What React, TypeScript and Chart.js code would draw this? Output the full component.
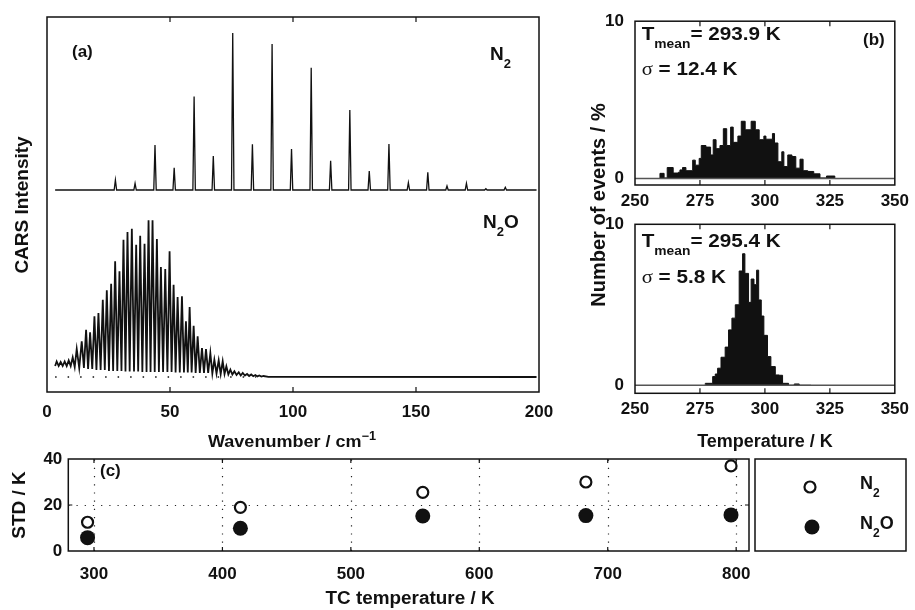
import React, { useEffect, useRef } from "react";
import { Chart, registerables } from "chart.js";
Chart.register(...registerables);

const FONT = "'Liberation Sans', Arial, Helvetica, sans-serif";
const SERIF = "'Liberation Serif', 'DejaVu Serif', serif";
const INK = "#111";

// ---------- Panel (a): CARS spectra ----------
const WAVENUMBER_TICKS = [0, 50, 100, 150, 200];
const N2_SHIFT = [27.8, 35.8, 43.9, 51.7, 59.8, 67.6, 75.5, 83.5, 91.5, 99.4, 107.4, 115.3, 123.1, 131.0, 139.0, 146.9, 154.8, 162.6, 170.5, 178.4, 186.3];
const N2_INTENSITY = [10, 6.7, 45, 22.3, 93.5, 34, 157, 45.7, 146, 41, 122.3, 29.3, 80, 19, 46, 7.3, 17.7, 4, 6.7, 1.3, 2.7];
const N2O_SHIFT = [3.93, 5.56, 7.19, 8.82, 10.45, 12.08, 14.12, 15.89, 17.52, 19.28, 20.91, 22.68, 24.31, 26.07, 27.7, 29.46, 31.09, 32.72, 34.49, 36.25, 37.88, 39.65, 41.28, 42.9, 44.67, 46.3, 48.07, 49.83, 51.46, 53.09, 54.86, 56.48, 57.98, 59.61, 61.24, 63.0, 64.63, 66.4, 68.03, 69.79, 71.42, 72.91, 74.54, 76.17, 77.94, 79.57, 81.33, 83.0, 84.7, 86.3, 88.0];
const N2O_INTENSITY = [15.5, 15, 15.5, 16.5, 19.6, 28, 35.7, 47.3, 44.7, 60.7, 64, 77.3, 86.7, 93.3, 115.7, 105.7, 137.3, 145, 148.3, 132.3, 141.3, 133.3, 156.7, 156.7, 138, 110, 108, 125.7, 92.3, 80, 80.7, 55.7, 70, 51.3, 40.7, 29, 28, 24, 17.3, 16.7, 15.7, 10.7, 7.3, 5.7, 4.7, 4, 3, 2.5, 2, 1.5, 1];
const N2O_VALLEY = [11, 11, 11, 11, 10, 9, 9, 8, 8, 7, 7, 7, 6, 6, 6, 6, 5.5, 5.5, 5.5, 5.5, 5, 5, 5, 5, 5, 5, 5, 5, 4.5, 4.5, 4.5, 4.5, 4.5, 4, 4, 4, 4, 3.5, 3.5, 3, 3, 2.5, 2.5, 2, 1.5, 1.5, 1, 0.8, 0.6, 0.4, 0.2];
const N2O_TAIL_SHIFT = [92, 199];
const N2O_TAIL_INTENSITY = [0.2, 0];
const SPECTRUM_RANGE = [3.3, 199];
const DOTTED_BASELINE_RANGE = [3.3, 85];
const N2_OFFSET = 202;
const N2O_OFFSET = 15;
const LINE_HALF_WIDTH = 0.5;

// ---------- Panel (b): temperature histograms ----------
const TEMP_TICKS = [250, 275, 300, 325, 350];
const HIST1_EDGES = [259.6, 261.2, 262.4, 264.7, 266.7, 267.3, 268.3, 269.6, 272.2, 273.2, 274.7, 275.5, 277.3, 279.1, 280.1, 281.2, 282.7, 284.0, 285.3, 286.8, 287.8, 289.6, 290.9, 292.4, 294.7, 296.3, 297.8, 299.6, 300.4, 302.9, 303.7, 305.0, 306.5, 307.3, 308.8, 310.4, 311.9, 313.5, 314.7, 316.5, 318.8, 321.2, 323.7, 326.9, 328.8];
const HIST1_PERCENT = [0.16, 0.33, 0.04, 0.7, 0.35, 0.4, 0.55, 0.7, 0.5, 1.17, 0.85, 1.28, 2.1, 2.0, 1.5, 2.47, 1.9, 2.1, 3.17, 2.1, 3.27, 2.3, 2.7, 3.64, 3.1, 3.64, 3.1, 2.47, 2.7, 2.5, 2.86, 2.26, 1.07, 1.7, 0.76, 1.5, 1.4, 0.66, 1.23, 0.5, 0.45, 0.3, 0.04, 0.16];
const HIST2_EDGES = [277.05, 279.9, 280.9, 281.8, 283.1, 284.7, 286.0, 287.3, 288.6, 290.1, 291.4, 292.3, 293.7, 294.7, 295.8, 296.8, 297.6, 298.6, 299.6, 301.0, 302.3, 304.0, 305.5, 306.8, 309.1, 311.3, 313.2, 317.7];
const HIST2_PERCENT = [0.06, 0.12, 0.54, 0.7, 1.06, 1.74, 2.37, 3.44, 4.17, 5.0, 7.1, 8.17, 6.95, 5.15, 6.6, 6.25, 7.15, 5.3, 4.3, 3.1, 1.78, 1.16, 0.64, 0.62, 0.12, 0, 0.08];
const HIST_Y_TICKS = [0, 10];

// ---------- Panel (c): STD vs TC temperature ----------
const TC_TEMPERATURE = [295, 414, 556, 683, 796];
const STD_N2 = [12.5, 19, 25.5, 30, 37];
const STD_N2O = [5.8, 9.9, 15.2, 15.4, 15.7];
const TC_TICKS = [300, 400, 500, 600, 700, 800];
const STD_TICKS = [0, 20, 40];

type Part = { t: string; k?: "sub" | "sup"; serif?: boolean };
type TextItem = { x: number; y: number; parts: Part[]; size?: number; align?: "left" | "center" | "right"; rot?: number; sx?: number };

function fontFor(p: Part, size: number) {
  const s = p.k ? Math.round(size * 0.68) : size;
  return `${p.serif ? "normal" : "bold"} ${s}px ${p.serif ? SERIF : FONT}`;
}

function drawRich(ctx: CanvasRenderingContext2D, it: TextItem) {
  const size = it.size ?? 17;
  let total = 0;
  const widths = it.parts.map((p) => {
    ctx.font = fontFor(p, size);
    const w = ctx.measureText(p.t).width;
    total += w;
    return w;
  });
  ctx.save();
  ctx.translate(it.x, it.y);
  if (it.rot) ctx.rotate(it.rot);
  if (it.sx) ctx.scale(it.sx, 1);
  ctx.fillStyle = INK;
  ctx.textBaseline = "alphabetic";
  ctx.textAlign = "left";
  let cx = it.align === "center" ? -total / 2 : it.align === "right" ? -total : 0;
  it.parts.forEach((p, i) => {
    ctx.font = fontFor(p, size);
    const dy = p.k === "sub" ? size * 0.42 : p.k === "sup" ? -size * 0.42 : 0;
    ctx.fillText(p.t, cx, dy);
    cx += widths[i];
  });
  ctx.restore();
}

const framePlugin = {
  id: "frame",
  beforeDatasetsDraw(chart: any, _a: any, o: any) {
    const { ctx, chartArea: a, scales } = chart;
    ctx.save();
    ctx.beginPath();
    ctx.rect(a.left, a.top, a.right - a.left, a.bottom - a.top);
    ctx.clip();
    ctx.strokeStyle = "#222";
    ctx.lineWidth = 1.2;
    ctx.setLineDash([1.2, 7]);
    (o.xGrid || []).forEach((v: number) => {
      const px = Math.round(scales.x.getPixelForValue(v)) + 0.5;
      ctx.beginPath();
      ctx.moveTo(px, a.bottom);
      ctx.lineTo(px, a.top);
      ctx.stroke();
    });
    (o.yGrid || []).forEach((v: number) => {
      const py = Math.round(scales.y.getPixelForValue(v)) + 0.5;
      ctx.beginPath();
      ctx.moveTo(a.left, py);
      ctx.lineTo(a.right, py);
      ctx.stroke();
    });
    ctx.restore();
  },
  afterDatasetsDraw(chart: any, _a: any, o: any) {
    const { ctx, chartArea: a, scales } = chart;
    ctx.save();
    if (o.zeroLine) {
      const py = scales.y.getPixelForValue(0);
      ctx.strokeStyle = "#555";
      ctx.lineWidth = 1.6;
      ctx.beginPath();
      ctx.moveTo(a.left, py);
      ctx.lineTo(a.right, py);
      ctx.stroke();
    }
    ctx.strokeStyle = INK;
    ctx.lineWidth = 1.5;
    ctx.setLineDash([]);
    ctx.strokeRect(a.left, a.top, a.right - a.left, a.bottom - a.top);
    const L = o.tickLen || 5;
    ctx.lineWidth = 1.2;
    ctx.beginPath();
    (o.xTicks || []).forEach((v: number) => {
      const px = scales.x.getPixelForValue(v);
      ctx.moveTo(px, a.bottom);
      ctx.lineTo(px, a.bottom - L);
      ctx.moveTo(px, a.top);
      ctx.lineTo(px, a.top + L);
    });
    (o.yTicks || []).forEach((v: number) => {
      const py = scales.y.getPixelForValue(v);
      ctx.moveTo(a.left, py);
      ctx.lineTo(a.left + L, py);
      ctx.moveTo(a.right, py);
      ctx.lineTo(a.right - L, py);
    });
    ctx.stroke();
    ctx.restore();
  },
};

const textPlugin = {
  id: "texts",
  afterDraw(chart: any, _a: any, o: any) {
    const ctx = chart.ctx as CanvasRenderingContext2D;
    if (o.legend) {
      const L = o.legend;
      ctx.save();
      ctx.strokeStyle = INK;
      ctx.lineWidth = 1.5;
      ctx.strokeRect(L.x, L.y, L.w, L.h);
      ctx.beginPath();
      ctx.arc(L.sym1[0], L.sym1[1], 5.5, 0, Math.PI * 2);
      ctx.fillStyle = "#fff";
      ctx.fill();
      ctx.lineWidth = 2.2;
      ctx.stroke();
      ctx.beginPath();
      ctx.arc(L.sym2[0], L.sym2[1], 7.5, 0, Math.PI * 2);
      ctx.fillStyle = INK;
      ctx.fill();
      ctx.restore();
    }
    (o.items || []).forEach((it: TextItem) => drawRich(ctx, it));
  },
};

const tickFont = { family: FONT, size: 17, weight: "bold" as const };

function fixedTicks(values: number[]) {
  return (s: any) => {
    s.ticks = values.map((v) => ({ value: v }));
  };
}

function xy(xs: number[], ys: number[], off = 0) {
  return xs.map((x, i) => ({ x, y: ys[i] + off }));
}

function n2Points() {
  const pts = [{ x: SPECTRUM_RANGE[0], y: N2_OFFSET }];
  N2_SHIFT.forEach((w, i) => {
    pts.push({ x: w - LINE_HALF_WIDTH, y: N2_OFFSET });
    pts.push({ x: w, y: N2_OFFSET + N2_INTENSITY[i] });
    pts.push({ x: w + LINE_HALF_WIDTH, y: N2_OFFSET });
  });
  pts.push({ x: SPECTRUM_RANGE[1], y: N2_OFFSET });
  return pts;
}

function n2oPoints() {
  const pts = [{ x: SPECTRUM_RANGE[0], y: N2O_OFFSET + N2O_VALLEY[0] }];
  N2O_SHIFT.forEach((w, i) => {
    pts.push({ x: w, y: N2O_OFFSET + N2O_INTENSITY[i] });
    const next = i + 1 < N2O_SHIFT.length ? N2O_SHIFT[i + 1] : N2O_TAIL_SHIFT[0];
    pts.push({ x: (w + next) / 2, y: N2O_OFFSET + N2O_VALLEY[i] });
  });
  return pts.concat(xy(N2O_TAIL_SHIFT, N2O_TAIL_INTENSITY, N2O_OFFSET));
}

function histPoints(edges: number[], vals: number[]) {
  const pts = [{ x: edges[0], y: 0 }];
  edges.forEach((e, i) => pts.push({ x: e, y: i < vals.length ? vals[i] : 0 }));
  return pts;
}

const base = (padding: any) => ({
  animation: false as const,
  responsive: false,
  events: [] as any[],
  layout: { padding },
});

function cfgA(): any {
  return {
    type: "scatter",
    data: {
      datasets: [
        { data: n2Points(), showLine: true, borderColor: INK, borderWidth: 1.3, pointRadius: 0 },
        { data: n2oPoints(), showLine: true, borderColor: INK, borderWidth: 1.8, pointRadius: 0 },
        {
          data: DOTTED_BASELINE_RANGE.map((x) => ({ x, y: N2O_OFFSET })),
          showLine: true, borderColor: INK, borderWidth: 1.6, borderDash: [1.5, 11], pointRadius: 0,
        },
      ],
    },
    options: {
      ...base({ left: 47, top: 17, right: 376, bottom: 178 }),
      plugins: {
        legend: { display: false },
        tooltip: { enabled: false },
        frame: { xTicks: [50, 100, 150], tickLen: 5 },
        texts: {
          items: [
            { x: 72, y: 57, parts: [{ t: "(a)" }], size: 17 },
            { x: 490, y: 60, parts: [{ t: "N" }, { t: "2", k: "sub" }], size: 19 },
            { x: 483, y: 228, parts: [{ t: "N" }, { t: "2", k: "sub" }, { t: "O" }], size: 19 },
            { x: 28, y: 205, parts: [{ t: "CARS Intensity" }], size: 19, align: "center", rot: -Math.PI / 2 },
            { x: 292, y: 447, parts: [{ t: "Wavenumber / cm" }, { t: "−1", k: "sup" }], size: 17, align: "center", sx: 1.06 },
          ],
        },
      },
      scales: {
        x: {
          type: "linear", min: 0, max: 200,
          afterBuildTicks: fixedTicks(WAVENUMBER_TICKS),
          afterFit: (s: any) => { s.height = 40; },
          grid: { display: false, drawTicks: false }, border: { display: false },
          ticks: { padding: 10, font: tickFont, color: INK, maxRotation: 0, autoSkip: false },
        },
        y: { type: "linear", min: 0, max: 375, display: false },
      },
    },
  };
}

function cfgHist(edges: number[], vals: number[], top: number, bottom: number, right: number, ymin: number, items: TextItem[]): any {
  return {
    type: "scatter",
    data: {
      datasets: [
        {
          data: histPoints(edges, vals), showLine: true, stepped: "after", fill: "origin",
          backgroundColor: INK, borderColor: INK, borderWidth: 1, pointRadius: 0,
        },
      ],
    },
    options: {
      ...base({ left: 595, top, right: 915 - right, bottom: 610 - bottom - 30 }),
      plugins: {
        legend: { display: false },
        tooltip: { enabled: false },
        frame: { xTicks: [275, 300, 325], tickLen: 5, zeroLine: true },
        texts: { items },
      },
      scales: {
        x: {
          type: "linear", min: 250, max: 350,
          afterBuildTicks: fixedTicks(TEMP_TICKS),
          afterFit: (s: any) => { s.height = 30; },
          grid: { display: false, drawTicks: false }, border: { display: false },
          ticks: { padding: 6, font: tickFont, color: INK, maxRotation: 0, autoSkip: false },
        },
        y: {
          type: "linear", min: ymin, max: 10,
          afterBuildTicks: fixedTicks(HIST_Y_TICKS),
          afterFit: (s: any) => { s.width = 40; },
          grid: { display: false, drawTicks: false }, border: { display: false },
          ticks: { padding: 11, font: tickFont, color: INK },
        },
      },
    },
  };
}

function cfgC(): any {
  return {
    type: "scatter",
    data: {
      datasets: [
        {
          data: xy(TC_TEMPERATURE, STD_N2), pointStyle: "circle", pointRadius: 5.5, pointBorderWidth: 2.2,
          pointBackgroundColor: "#fff", pointBorderColor: INK,
        },
        {
          data: xy(TC_TEMPERATURE, STD_N2O), pointStyle: "circle", pointRadius: 7.5, pointBorderWidth: 0,
          pointBackgroundColor: INK, pointBorderColor: INK,
        },
      ],
    },
    options: {
      ...base({ left: 28.3, top: 459, right: 166, bottom: 29 }),
      plugins: {
        legend: { display: false },
        tooltip: { enabled: false },
        frame: { xGrid: TC_TICKS, yGrid: [20], xTicks: TC_TICKS, yTicks: [20], tickLen: 4 },
        texts: {
          legend: { x: 755, y: 459, w: 151, h: 92, sym1: [810, 487], sym2: [812, 527] },
          items: [
            { x: 100, y: 476, parts: [{ t: "(c)" }], size: 17 },
            { x: 25, y: 505, parts: [{ t: "STD / K" }], size: 19, align: "center", rot: -Math.PI / 2 },
            { x: 410, y: 604, parts: [{ t: "TC temperature / K" }], size: 18, align: "center", sx: 1.05 },
            { x: 860, y: 489, parts: [{ t: "N" }, { t: "2", k: "sub" }], size: 18 },
            { x: 860, y: 529, parts: [{ t: "N" }, { t: "2", k: "sub" }, { t: "O" }], size: 18 },
          ],
        },
      },
      scales: {
        x: {
          type: "linear", min: 280, max: 810,
          afterBuildTicks: fixedTicks(TC_TICKS),
          afterFit: (s: any) => { s.height = 30; },
          grid: { display: false, drawTicks: false }, border: { display: false },
          ticks: { padding: 13, font: tickFont, color: INK, maxRotation: 0, autoSkip: false },
        },
        y: {
          type: "linear", min: 0, max: 40,
          afterBuildTicks: fixedTicks(STD_TICKS),
          afterFit: (s: any) => { s.width = 40; },
          grid: { display: false, drawTicks: false }, border: { display: false },
          ticks: { padding: 6, font: tickFont, color: INK },
        },
      },
    },
  };
}

const histTopText: TextItem[] = [
  { x: 641.7, y: 40, parts: [{ t: "T" }, { t: "mean", k: "sub" }, { t: "= 293.9 K" }], size: 18, sx: 1.15 },
  { x: 641.7, y: 75, parts: [{ t: "σ", serif: true }, { t: " = 12.4 K" }], size: 18, sx: 1.15 },
  { x: 863, y: 45, parts: [{ t: "(b)" }], size: 17 },
  { x: 605, y: 205, parts: [{ t: "Number of events / %" }], size: 20, align: "center", rot: -Math.PI / 2 },
];
const histBottomText: TextItem[] = [
  { x: 641.7, y: 247.3, parts: [{ t: "T" }, { t: "mean", k: "sub" }, { t: "= 295.4 K" }], size: 18, sx: 1.15 },
  { x: 641.7, y: 282.7, parts: [{ t: "σ", serif: true }, { t: " = 5.8 K" }], size: 18, sx: 1.15 },
  { x: 765, y: 447, parts: [{ t: "Temperature / K" }], size: 18, align: "center" },
];

export default function App() {
  const refA = useRef<HTMLCanvasElement>(null);
  const refB1 = useRef<HTMLCanvasElement>(null);
  const refB2 = useRef<HTMLCanvasElement>(null);
  const refC = useRef<HTMLCanvasElement>(null);

  useEffect(() => {
    document.body.style.margin = "0";
    const plugins = [framePlugin, textPlugin];
    const mk = (el: HTMLCanvasElement | null, cfg: any) => new Chart(el as HTMLCanvasElement, { ...cfg, plugins });
    const charts = [
      mk(refA.current, cfgA()),
      mk(refB1.current, cfgHist(HIST1_EDGES, HIST1_PERCENT, 16, 185, 895, -0.41, histTopText)),
      mk(refB2.current, cfgHist(HIST2_EDGES, HIST2_PERCENT, 224.3, 393.3, 895.7, -0.5, histBottomText)),
      mk(refC.current, cfgC()),
    ];
    return () => charts.forEach((c) => c.destroy());
  }, []);

  const cs: React.CSSProperties = { position: "absolute", left: 0, top: 0, width: 915, height: 610 };
  return (
    <div style={{ position: "relative", width: 915, height: 610, background: "#fff", overflow: "hidden" }}>
      <canvas ref={refA} width={915} height={610} style={cs} />
      <canvas ref={refB1} width={915} height={610} style={cs} />
      <canvas ref={refB2} width={915} height={610} style={cs} />
      <canvas ref={refC} width={915} height={610} style={cs} />
    </div>
  );
}
